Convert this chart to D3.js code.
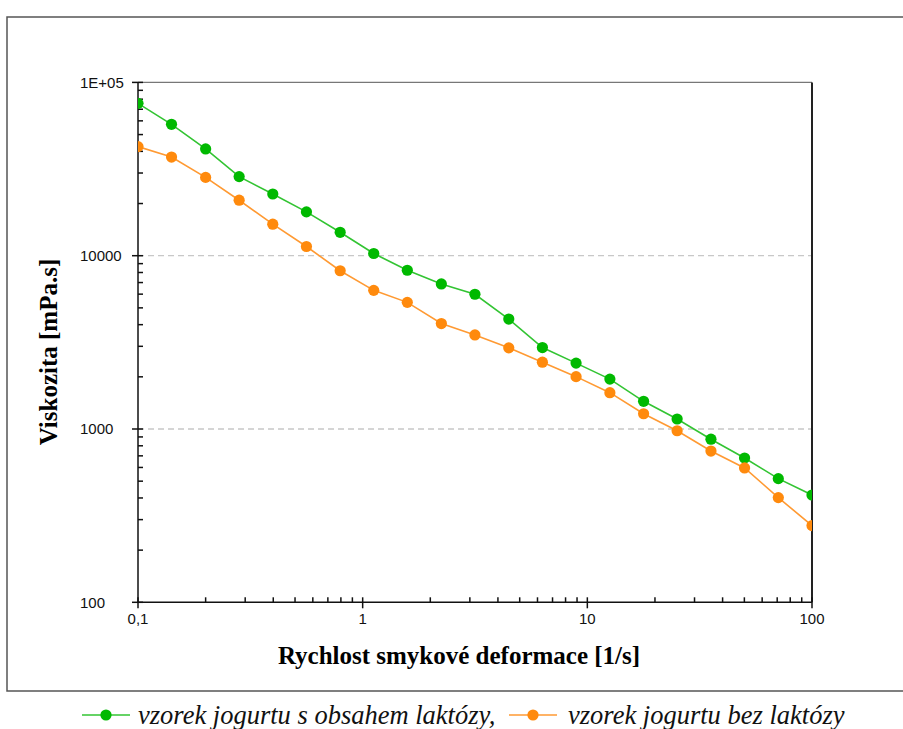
<!DOCTYPE html>
<html>
<head>
<meta charset="utf-8">
<script src="https://cdn.jsdelivr.net/npm/d3@7"></script>
<style>
  body { margin: 0; background: #fff; }
  svg { display: block; }
</style>
</head>
<body>
<script>
// shear rate [1/s] and viscosity [mPa.s]
var shearRate = [0.1, 0.141, 0.2, 0.282, 0.398, 0.562, 0.794, 1.12, 1.58, 2.24, 3.16,
                 4.47, 6.31, 8.91, 12.6, 17.8, 25.1, 35.5, 50.1, 70.8, 100];
var withLactose = [75700, 57300, 41300, 28600, 22700, 17900, 13650, 10300, 8240, 6870, 5990,
                   4310, 2950, 2400, 1940, 1445, 1142, 873, 680, 517, 416];
var lactoseFree = [42600, 37100, 28300, 20900, 15200, 11300, 8190, 6310, 5380, 4060, 3490,
                   2940, 2430, 2005, 1620, 1225, 977, 746, 596, 402, 277];
var xTicks = [0.1, 1, 10, 100];
var xTickLabels = ["0,1", "1", "10", "100"];
var yTicks = [100, 1000, 10000, 100000];
var yTickLabels = ["100", "1000", "10000", "1E+05"];
var seriesNames = ["vzorek jogurtu s obsahem laktózy,", "vzorek jogurtu bez laktózy"];

var WIDTH = 903, HEIGHT = 729;
// plot area (note: "top" is reserved on window, so prefixed names)
var plotLeft = 138, plotRight = 812, plotTop = 82.4, plotBottom = 602.3;

var x = d3.scaleLog().domain([0.1, 100]).range([plotLeft, plotRight]);
var y = d3.scaleLog().domain([100, 100000]).range([plotBottom, plotTop]);

var svg = d3.select("body").append("svg")
  .attr("width", WIDTH)
  .attr("height", HEIGHT);

svg.append("rect").attr("width", WIDTH).attr("height", HEIGHT).attr("fill", "#fff");

// outer frame
svg.append("rect")
  .attr("x", 7).attr("y", 17)
  .attr("width", WIDTH).attr("height", 674)
  .attr("fill", "none")
  .attr("stroke", "#555")
  .attr("stroke-width", 1.5);

// dashed grid
svg.append("g").selectAll("line")
  .data([1000, 10000])
  .join("line")
    .attr("x1", plotLeft).attr("x2", plotRight)
    .attr("y1", d => y(d)).attr("y2", d => y(d))
    .attr("stroke", "#c8c8c8")
    .attr("stroke-width", 1.3)
    .attr("stroke-dasharray", "6,4");

// top and right border of the plot
svg.append("line")
  .attr("x1", plotLeft).attr("x2", plotRight)
  .attr("y1", plotTop).attr("y2", plotTop)
  .attr("stroke", "#777").attr("stroke-width", 1.3);
svg.append("line")
  .attr("x1", plotRight).attr("x2", plotRight)
  .attr("y1", plotTop).attr("y2", plotBottom)
  .attr("stroke", "#222").attr("stroke-width", 2);

// minor ticks
var minorX = [], minorY = [];
[0.1, 1, 10].forEach(d => { for (var k = 2; k <= 9; k++) minorX.push(d * k); });
[100, 1000, 10000].forEach(d => { for (var k = 2; k <= 9; k++) minorY.push(d * k); });

var axes = svg.append("g").attr("stroke", "#111").attr("stroke-width", 1.5);

axes.selectAll(".mx")
  .data(minorX)
  .join("line")
    .attr("x1", d => x(d)).attr("x2", d => x(d))
    .attr("y1", plotBottom).attr("y2", plotBottom - 5);
axes.selectAll(".Mx")
  .data(xTicks)
  .join("line")
    .attr("x1", d => x(d)).attr("x2", d => x(d))
    .attr("y1", plotBottom - 5).attr("y2", plotBottom + 6);
axes.selectAll(".my")
  .data(minorY)
  .join("line")
    .attr("x1", plotLeft).attr("x2", plotLeft + 5)
    .attr("y1", d => y(d)).attr("y2", d => y(d));
axes.selectAll(".My")
  .data(yTicks)
  .join("line")
    .attr("x1", plotLeft - 6).attr("x2", plotLeft + 5)
    .attr("y1", d => y(d)).attr("y2", d => y(d));

axes.append("line")
  .attr("x1", plotLeft).attr("x2", plotLeft)
  .attr("y1", plotTop).attr("y2", plotBottom);
axes.append("line")
  .attr("x1", plotLeft).attr("x2", plotRight)
  .attr("y1", plotBottom).attr("y2", plotBottom);

// tick labels
svg.append("g").selectAll("text")
  .data(yTicks)
  .join("text")
    .attr("x", 80)
    .attr("y", d => y(d))
    .attr("dy", "0.35em")
    .style("font-family", "Liberation Sans, Arial, sans-serif")
    .style("font-size", "15px")
    .attr("fill", "#111")
    .text((d, i) => yTickLabels[i]);

svg.append("g").selectAll("text")
  .data(xTicks)
  .join("text")
    .attr("x", d => x(d))
    .attr("y", 624)
    .attr("text-anchor", "middle")
    .style("font-family", "Liberation Sans, Arial, sans-serif")
    .style("font-size", "15px")
    .attr("fill", "#111")
    .text((d, i) => xTickLabels[i]);

// axis titles
svg.append("text")
  .attr("x", 459)
  .attr("y", 664)
  .attr("text-anchor", "middle")
  .style("font-family", "Liberation Serif, Times New Roman, serif")
  .style("font-weight", "bold")
  .style("font-size", "25px")
  .text("Rychlost smykové deformace [1/s]");

svg.append("text")
  .attr("transform", "translate(57,352) rotate(-90)")
  .attr("text-anchor", "middle")
  .style("font-family", "Liberation Serif, Times New Roman, serif")
  .style("font-weight", "bold")
  .style("font-size", "25px")
  .text("Viskozita [mPa.s]");

// series
var series = [
  {values: withLactose, line: "#33c433", dot: "#00b900"},
  {values: lactoseFree, line: "#ff9a33", dot: "#ff8a0d"}
];

svg.append("clipPath").attr("id", "plot-clip")
  .append("rect")
  .attr("x", plotLeft).attr("y", plotTop - 10)
  .attr("width", plotRight - plotLeft).attr("height", plotBottom - plotTop + 10);

var plot = svg.append("g").attr("clip-path", "url(#plot-clip)");

var line = d3.line()
  .x((d, i) => x(shearRate[i]))
  .y(d => y(d));

series.forEach(s => {
  var g = plot.append("g");
  g.append("path")
    .attr("d", line(s.values))
    .attr("fill", "none")
    .attr("stroke", s.line)
    .attr("stroke-width", 1.6);
  g.selectAll("circle")
    .data(s.values)
    .join("circle")
      .attr("cx", (d, i) => x(shearRate[i]))
      .attr("cy", d => y(d))
      .attr("r", 5.6)
      .attr("fill", s.dot);
});

// legend
var legendItems = [
  {x0: 82, tx: 138, color: series[0]},
  {x0: 509, tx: 568, color: series[1]}
];
var legend = svg.append("g");
legendItems.forEach((d, i) => {
  legend.append("line")
    .attr("x1", d.x0).attr("x2", d.x0 + 48)
    .attr("y1", 715).attr("y2", 715)
    .attr("stroke", d.color.line)
    .attr("stroke-width", 1.6);
  legend.append("circle")
    .attr("cx", d.x0 + 24).attr("cy", 715)
    .attr("r", 5.6)
    .attr("fill", d.color.dot);
  legend.append("text")
    .attr("x", d.tx).attr("y", 724)
    .style("font-family", "Liberation Serif, Times New Roman, serif")
    .style("font-style", "italic")
    .style("font-size", "26.5px")
    .attr("fill", "#111")
    .text(seriesNames[i]);
});
</script>
</body>
</html>
